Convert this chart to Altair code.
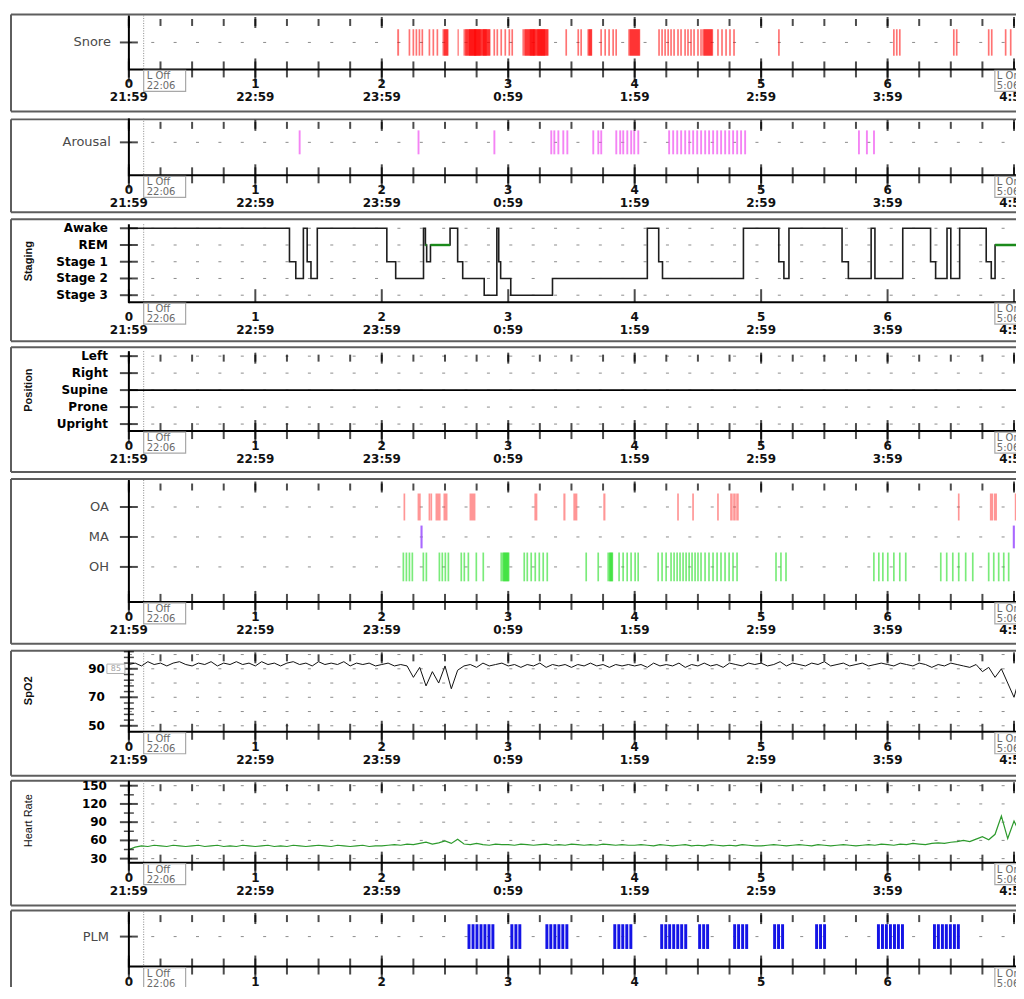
import pandas as pd
import altair as alt

FONT = "Liberation Sans"
LFONT = "DejaVu Sans"
PXH = 126.6          # pixels per hour
XMAX = 7.3
W = round(XMAX * PXH)

CLOCK = ["21:59", "22:59", "23:59", "0:59", "1:59", "2:59", "3:59", "4:59"]
HOURS = list(range(8))
L_OFF, L_ON = 0.117, 7.117
L_OFF_TXT = "L Off\n22:06"
L_ON_TXT = "L On\n5:06"
SPO2_MARK = ("85", 90)   # small boxed marker next to the 90 label

# ---------------- data (hours from 21:59; durations in minutes) ----------------
snore_start = [2.122, 2.212, 2.243, 2.267, 2.291, 2.314, 2.370, 2.401, 2.433, 2.480, 2.490, 2.599,
               2.646, 2.660, 2.690, 2.730, 2.750, 2.800, 2.883, 2.907, 2.938, 2.970, 3.002, 3.025,
               3.112, 3.130, 3.170, 3.200, 3.230, 3.260, 3.452, 3.547, 3.570, 3.626, 3.635,
               3.728, 3.760, 3.791, 3.823, 3.847, 3.949, 3.960,
               4.186, 4.210, 4.234, 4.258, 4.281, 4.305, 4.336, 4.360, 4.392, 4.415,
               4.439, 4.463, 4.494, 4.518, 4.534, 4.545, 4.652, 4.684, 4.716, 4.747, 4.779,
               5.134, 6.043, 6.066, 6.090, 6.517, 6.540, 6.793, 6.817, 6.927, 6.967]
snore_min = [0.9, 0.8, 0.8, 0.8, 0.8, 0.8, 0.8, 0.8, 0.8, 2.9, 2.0, 0.6,
             6.0, 5.5, 5.5, 6.0, 6.5, 3.5, 0.8, 0.8, 0.8, 0.8, 0.8, 0.8,
             5.5, 5.0, 5.5, 5.5, 5.3, 3.4, 0.8, 0.8, 0.8, 2.3, 1.6,
             0.8, 0.8, 0.8, 0.8, 0.8, 5.7, 4.8,
             0.8, 0.8, 0.8, 0.8, 0.8, 0.8, 0.8, 0.8, 0.8, 0.8,
             0.8, 0.8, 0.8, 0.8, 5.2, 4.2, 0.8, 0.8, 0.8, 0.8, 0.8,
             0.8, 0.8, 0.8, 0.8, 0.8, 0.8, 0.8, 0.8, 0.8, 0.8]

arousal_start = [1.343, 2.283, 2.883, 3.333, 3.357, 3.389, 3.428, 3.460, 3.665, 3.705, 3.728,
                 3.847, 3.878, 3.902, 3.934, 3.965, 3.989, 4.021,
                 4.265, 4.297, 4.329, 4.360, 4.392, 4.424, 4.455, 4.487, 4.518, 4.550,
                 4.581, 4.613, 4.645, 4.676, 4.708, 4.740, 4.771, 4.803, 4.834, 4.866,
                 5.766, 5.829, 5.885]
arousal_min = [0.9] * len(arousal_start)

oa_start = [2.172, 2.283, 2.370, 2.385, 2.425, 2.488, 2.694, 3.207, 3.436, 3.515, 3.752,
            4.336, 4.455, 4.652, 4.755, 4.779, 4.803, 6.556, 6.809, 6.840, 7.006]
oa_min = [0.8, 1.5, 0.8, 0.8, 2.4, 1.9, 2.8, 1.4, 1.0, 1.9, 1.0,
          0.8, 0.8, 0.8, 1.2, 1.2, 1.2, 0.8, 1.5, 1.5, 0.8]

ma_start = [2.306, 6.990]
ma_min = [1.0, 1.0]

oh_start = [2.164, 2.188, 2.212, 2.235, 2.322, 2.346, 2.449, 2.472, 2.496, 2.520,
            2.622, 2.646, 2.678, 2.741, 2.796, 2.938, 2.960,
            3.120, 3.144, 3.175, 3.207, 3.239, 3.270, 3.302, 3.610, 3.705, 3.784, 3.800,
            3.870, 3.902, 3.934, 3.965, 3.997, 4.021, 4.179, 4.210, 4.242,
            4.281, 4.305, 4.329, 4.352, 4.376, 4.400, 4.424, 4.447, 4.471, 4.494,
            4.518, 4.550, 4.581, 4.613, 4.645, 4.676, 4.708, 4.740, 4.771, 4.803,
            5.111, 5.150, 5.190, 5.885, 5.924, 5.956, 5.995, 6.043, 6.090, 6.137,
            6.414, 6.461, 6.509, 6.556, 6.611, 6.667, 6.793, 6.833, 6.872, 6.912, 6.951]
oh_min = [0.8, 0.8, 0.8, 0.8, 0.8, 0.8, 0.8, 0.8, 0.8, 0.8,
          0.8, 0.8, 0.8, 0.8, 0.8, 4.0, 3.0,
          0.8, 0.8, 0.8, 0.8, 0.8, 0.8, 0.8, 0.8, 0.8, 2.5, 1.8,
          0.8, 0.8, 0.8, 0.8, 0.8, 0.8, 0.8, 0.8, 0.8,
          0.8, 0.8, 0.8, 0.8, 0.8, 0.8, 0.8, 0.8, 0.8, 0.8,
          0.8, 0.8, 0.8, 0.8, 0.8, 0.8, 0.8, 0.8, 0.8, 0.8,
          0.8, 0.8, 0.8, 0.8, 0.8, 0.8, 0.8, 0.8, 0.8, 0.8,
          0.8, 0.8, 0.8, 0.8, 0.8, 0.8, 0.8, 0.8, 0.8, 0.8, 0.8]

plm_start = [2.678, 2.710, 2.741, 2.773, 2.804, 2.836, 2.867, 3.017, 3.049, 3.080,
             3.294, 3.325, 3.357, 3.389, 3.420, 3.452, 3.831, 3.863, 3.894, 3.926, 3.958,
             4.202, 4.234, 4.265, 4.297, 4.329, 4.360, 4.392, 4.502, 4.534, 4.565,
             4.779, 4.810, 4.842, 4.874, 5.095, 5.126, 5.158, 5.427, 5.458, 5.490,
             5.916, 5.948, 5.979, 6.011, 6.043, 6.074, 6.106,
             6.359, 6.390, 6.422, 6.453, 6.485, 6.517, 6.548]
plm_min = [1.4] * len(plm_start)

stage_t = [0.0, 1.27, 1.32, 1.38, 1.41, 1.44, 1.49, 2.04, 2.11, 2.33, 2.345, 2.355, 2.385,
           2.54, 2.60, 2.64, 2.81, 2.91, 2.925, 2.94, 3.02, 3.35, 4.10, 4.19, 4.22, 4.86,
           5.14, 5.18, 5.22, 5.64, 5.69, 5.87, 5.90, 6.12, 6.34, 6.38, 6.47, 6.50, 6.57,
           6.78, 6.82, 6.85, 7.12]
stage_s = ["Awake", "Stage 1", "Stage 2", "Awake", "Stage 1", "Stage 2", "Awake", "Stage 1",
           "Stage 2", "Awake", "REM", "Stage 1", "REM", "Awake", "Stage 1", "Stage 2", "Stage 3",
           "Awake", "Stage 1", "Stage 2", "Stage 3", "Stage 2", "Awake", "Stage 1", "Stage 2",
           "Awake", "Stage 1", "Stage 2", "Awake", "Stage 1", "Stage 2", "Awake", "Stage 2",
           "Awake", "Stage 1", "Stage 2", "Awake", "Stage 2", "Awake", "Stage 1", "Stage 2",
           "REM", "REM"]
STAGES = ["Stage 3", "Stage 2", "Stage 1", "REM", "Awake"]

pos_t = [0.0, 7.12]
pos_s = ["Supine", "Supine"]
POSITIONS = ["Upright", "Prone", "Supine", "Right", "Left"]

spo2 = [93, 94, 92, 95, 93, 94, 92, 94, 95, 93, 92, 94, 93, 95, 92, 94, 93, 95, 93, 94,
        92, 95, 93, 94, 92, 94, 95, 93, 94, 92, 95, 93, 94, 93, 95, 92, 94, 93, 94, 92,
        93, 94, 92, 93, 92, 84, 91, 78, 88, 80, 92, 76, 89, 92, 93, 91, 94, 92, 93, 94,
        92, 93, 91, 93, 92, 94, 91, 93, 92, 93, 91, 93, 92, 94, 92, 93, 91, 93, 92, 93,
        92, 93, 91, 94, 92, 93, 92, 94, 91, 93, 92, 94, 92, 93, 91, 94, 93, 92, 94, 93,
        94, 92, 93, 95, 92, 94, 93, 92, 94, 93, 95, 92, 93, 94, 92, 93, 94, 92, 93, 94,
        93, 92, 94, 93, 92, 94, 93, 91, 93, 92, 94, 93, 92, 91, 93, 88, 91, 84, 90, 80,
        70, 86, 78]
hr = [45, 49, 51, 50, 52, 51, 50, 52, 51, 50, 51, 52, 50, 51, 52, 50, 51, 50, 52, 51,
      50, 51, 52, 50, 51, 50, 52, 51, 50, 51, 52, 51, 50, 52, 51, 50, 51, 52, 50, 51,
      51, 52, 53, 52, 54, 53, 55, 57, 54, 56, 59, 55, 62, 54, 53, 55, 53, 52, 54, 53,
      53, 52, 54, 53, 52, 53, 54, 52, 53, 52, 54, 53, 52, 53, 52, 54, 53, 52, 53, 52,
      52, 53, 52, 51, 53, 52, 51, 52, 53, 51, 52, 51, 53, 52, 51, 52, 51, 53, 52, 51,
      51, 52, 53, 52, 51, 52, 53, 52, 51, 53, 52, 51, 52, 53, 52, 51, 52, 53, 52, 54,
      53, 52, 54, 53, 55, 54, 53, 55, 56, 55, 57, 58, 60, 58, 62, 66, 61, 70, 100, 63,
      92, 70, 75]
SAMPLE_H = 0.05

# ---------------- helpers ----------------
xs = alt.Scale(domain=[0, XMAX], nice=False, zero=False)
QH = pd.DataFrame({"h": [i * 0.25 for i in range(30)]})
HH = pd.DataFrame({"h": HOURS})
# the last hour number sits under the "L On" box in the original, only its clock time shows
XLAB = pd.DataFrame({"h": HOURS,
                     "lab": [(f"{h}\n{c}" if h < 7 else f"\n{c}") for h, c in zip(HOURS, CLOCK)]})
ONE = pd.DataFrame({"k": [0]})
FRAME_COLOR = "#5e5e5e"
X = lambda f: alt.X(f, scale=xs, axis=None)


def events_df(starts, mins, row, half):
    assert len(starts) == len(mins)
    return pd.DataFrame({"start": starts, "end": [s + m / 60 for s, m in zip(starts, mins)],
                         "lo": [row - half] * len(starts), "hi": [row + half] * len(starts)})


def bars(df, ysc, color, opacity):
    return alt.Chart(df).mark_rect(color=color, opacity=opacity).encode(
        x=X("start:Q"), x2="end", y=alt.Y("lo:Q", scale=ysc, axis=None), y2="hi")


def frame_layers(ft, fb):
    left, right = -118, W + 40
    rule = lambda: alt.Chart(ONE).mark_rule(color=FRAME_COLOR, strokeWidth=2)
    return [
        rule().encode(x=alt.value(left), x2=alt.value(right), y=alt.value(ft)),
        rule().encode(x=alt.value(left), x2=alt.value(right), y=alt.value(fb)),
        rule().encode(x=alt.value(left), y=alt.value(ft), y2=alt.value(fb)),
        rule().encode(x=alt.value(right), y=alt.value(ft), y2=alt.value(fb)),
    ]


def panel(H, ydom, labels, grid, bold, pad, frame, data_layers, title=None, title_y=0,
          title_bold=True, major=None, minor=None, staging=False, extra=None):
    ysc = alt.Scale(domain=ydom, nice=False, zero=False)
    Y = lambda f: alt.Y(f, scale=ysc, axis=None)
    major = major if major is not None else [v for v, _ in labels]
    layers = frame_layers(*frame)
    # dashed category / value grid
    layers.append(alt.Chart(pd.DataFrame({"v": grid})).mark_rule(
        color="#8c8c8c", strokeWidth=1, strokeDash=[3, 19.4]).encode(
        y=Y("v:Q"), x=alt.value(0), x2=alt.value(W)))
    # lights-off dotted line
    layers.append(alt.Chart(pd.DataFrame({"h": [L_OFF]})).mark_rule(
        color="#8a8a8a", strokeDash=[1, 1.5], strokeWidth=1).encode(
        x=X("h:Q"), y=alt.value(0), y2=alt.value(H)))
    layers += data_layers(ysc)
    # axis lines
    layers.append(alt.Chart(ONE).mark_rule(color="#000", strokeWidth=2).encode(
        x=alt.value(0), y=alt.value(0), y2=alt.value(H + 1)))
    layers.append(alt.Chart(ONE).mark_rule(color="#000", strokeWidth=2).encode(
        x=alt.value(0), x2=alt.value(W), y=alt.value(H)))
    # y ticks and labels
    layers.append(alt.Chart(pd.DataFrame({"v": major})).mark_tick(
        orient="horizontal", size=18, thickness=2, color="#000").encode(y=Y("v:Q"), x=alt.value(0)))
    if minor:
        layers.append(alt.Chart(pd.DataFrame({"v": minor})).mark_tick(
            orient="horizontal", size=10, thickness=1.5, color="#000").encode(y=Y("v:Q"), x=alt.value(0)))
    layers.append(alt.Chart(pd.DataFrame({"v": [v for v, _ in labels], "lab": [l for _, l in labels]}))
                  .mark_text(align="right", baseline="middle", font=LFONT,
                             fontSize=12 if bold else 13,
                             fontWeight="bold" if bold else "normal",
                             color="#000" if bold else "#4a4a4a")
                  .encode(y=Y("v:Q"), x=alt.value(-pad), text="lab:N"))
    if extra:
        layers += extra(ysc)
    if title:
        layers.append(alt.Chart(pd.DataFrame({"t": [title]})).mark_text(
            angle=270, align="center", baseline="middle", font=FONT, fontSize=11,
            fontWeight="bold" if title_bold else "normal", color="#111").encode(
            x=alt.value(-100), y=alt.value(title_y), text="t:N"))
    # time ticks
    if staging:
        layers.append(alt.Chart(HH).mark_tick(orient="vertical", size=13, thickness=2, color="#000").encode(
            x=X("h:Q"), y=alt.value(H - 6.5)))
    else:
        layers.append(alt.Chart(QH).mark_tick(orient="vertical", size=16, thickness=2, color="#000").encode(
            x=X("h:Q"), y=alt.value(H)))
        layers.append(alt.Chart(HH).mark_tick(orient="vertical", size=24, thickness=2, color="#000").encode(
            x=X("h:Q"), y=alt.value(H + 1)))
        layers.append(alt.Chart(QH).mark_tick(orient="vertical", size=7, thickness=2, color="#000").encode(
            x=X("h:Q"), y=alt.value(7)))
        layers.append(alt.Chart(HH).mark_tick(orient="vertical", size=11, thickness=2, color="#000").encode(
            x=X("h:Q"), y=alt.value(7)))
    # time labels (hour number + clock time)
    layers.append(alt.Chart(XLAB).mark_text(align="center", baseline="top", font=LFONT, fontSize=12,
                                            fontWeight="bold", color="#111", lineBreak="\n",
                                            lineHeight=13).encode(
        x=X("h:Q"), y=alt.value(H + 10), text="lab:N"))
    # lights off / on boxes
    off = pd.DataFrame({"h": [L_OFF], "t": [L_OFF_TXT]})
    on = pd.DataFrame({"h": [L_ON], "t": [L_ON_TXT]})
    layers.append(alt.Chart(off).mark_rect(fill="white", stroke="#a8a8a8", strokeWidth=1.2, x2Offset=42).encode(
        x=X("h:Q"), x2="h", y=alt.value(H + 1), y2=alt.value(H + 22)))
    layers.append(alt.Chart(off).mark_text(align="left", baseline="top", dx=3, font=LFONT, fontSize=10,
                                           color="#6a6a6a", lineBreak="\n", lineHeight=10).encode(
        x=X("h:Q"), y=alt.value(H + 2), text="t:N"))
    layers.append(alt.Chart(on).mark_rect(fill="white", stroke="#a8a8a8", strokeWidth=1.2, xOffset=-34).encode(
        x=X("h:Q"), x2="h", y=alt.value(H + 1), y2=alt.value(H + 22)))
    layers.append(alt.Chart(on).mark_text(align="left", baseline="top", dx=-32, font=LFONT, fontSize=10,
                                          color="#6a6a6a", lineBreak="\n", lineHeight=10).encode(
        x=X("h:Q"), y=alt.value(H + 2), text="t:N"))
    return alt.layer(*layers).properties(width=W, height=H)


# ---------------- panels ----------------
SNORE_ROW, AROUSAL_ROW, PLM_ROW = 0.5, 0.579, 0.545

p_snore = panel(54, [0, 1], [(SNORE_ROW, "Snore")], [SNORE_ROW], False, 18, (-1, 96),
                lambda ysc: [bars(events_df(snore_start, snore_min, SNORE_ROW, 0.245), ysc, "#ff0000", 0.55)])

p_arousal = panel(57, [0, 1], [(AROUSAL_ROW, "Arousal")], [AROUSAL_ROW], False, 18, (1, 94),
                  lambda ysc: [bars(events_df(arousal_start, arousal_min, AROUSAL_ROW, 0.21), ysc, "#f050f0", 0.7)])


def staging_layers(ysc):
    code = {s: i for i, s in enumerate(STAGES)}
    df = pd.DataFrame({"t": stage_t, "code": [code[s] for s in stage_s]})
    idx = [i for i in range(len(stage_t) - 1) if stage_s[i] == "REM"]
    rem = pd.DataFrame({"start": [stage_t[i] for i in idx], "end": [stage_t[i + 1] for i in idx],
                        "code": [code["REM"]] * len(idx)})
    return [
        alt.Chart(df).mark_line(interpolate="step-after", color="#1e1e1e", strokeWidth=1.6).encode(
            x=X("t:Q"), y=alt.Y("code:Q", scale=ysc, axis=None), order="t:Q"),
        alt.Chart(rem).mark_rule(color="#1b8a1b", strokeWidth=2.4).encode(
            x=X("start:Q"), x2="end", y=alt.Y("code:Q", scale=ysc, axis=None)),
    ]


p_stage = panel(78, [-0.418, 4.239], list(enumerate(STAGES)), list(range(5)), True, 21, (-5, 117),
                staging_layers, title="Staging", title_y=37, staging=True)


def position_layers(ysc):
    code = {s: i for i, s in enumerate(POSITIONS)}
    df = pd.DataFrame({"t": pos_t, "code": [code[s] for s in pos_s]})
    return [alt.Chart(df).mark_line(interpolate="step-after", color="#000", strokeWidth=1.6).encode(
        x=X("t:Q"), y=alt.Y("code:Q", scale=ysc, axis=None), order="t:Q")]


p_pos = panel(80, [-0.412, 4.294], list(enumerate(POSITIONS)), list(range(5)), True, 21, (-4, 121),
              position_layers, title="Position", title_y=39)


def event_layers(ysc):
    return [bars(events_df(oa_start, oa_min, 2, 0.45), ysc, "#ff4040", 0.55),
            bars(events_df(ma_start, ma_min, 1, 0.38), ysc, "#9a4dff", 0.85),
            bars(events_df(oh_start, oh_min, 0, 0.48), ysc, "#22dd22", 0.6)]


p_events = panel(122, [-1.167, 2.9], [(2, "OA"), (1, "MA"), (0, "OH")], [2, 1, 0], False, 20, (-1, 164),
                 event_layers)


def spo2_layers(ysc):
    df = pd.DataFrame({"t": [round(i * SAMPLE_H, 2) for i in range(len(spo2))], "v": spo2})
    return [alt.Chart(df).mark_line(color="#111", strokeWidth=1).encode(
        x=X("t:Q"), y=alt.Y("v:Q", scale=ysc, axis=None))]


def spo2_marker(ysc):
    df = pd.DataFrame({"v": [SPO2_MARK[1]], "lo": [SPO2_MARK[1] - 3.3], "hi": [SPO2_MARK[1] + 3.3],
                       "t": [SPO2_MARK[0]]})
    return [
        alt.Chart(df).mark_rect(fill="white", stroke="#b0b0b0", strokeWidth=1).encode(
            x=alt.value(-22), x2=alt.value(-4), y=alt.Y("lo:Q", scale=ysc, axis=None), y2="hi"),
        alt.Chart(df).mark_text(align="center", baseline="middle", font=LFONT, fontSize=8,
                                color="#a0a0a0").encode(
            x=alt.value(-13), y=alt.Y("v:Q", scale=ysc, axis=None), text="t:N"),
    ]


p_spo2 = panel(81, [45.8, 102.6], [(50, "50"), (70, "70"), (90, "90")], [50, 60, 70, 80, 90, 100],
               True, 24, (0, 125), spo2_layers, title="SpO2", title_y=40,
               major=[50, 70, 90], minor=[54, 58, 62, 66, 74, 78, 82, 86, 94, 98, 102],
               extra=spo2_marker)


def hr_layers(ysc):
    df = pd.DataFrame({"t": [round(i * SAMPLE_H, 2) for i in range(len(hr))], "v": hr})
    return [alt.Chart(df).mark_line(color="#2c9a2c", strokeWidth=1.2).encode(
        x=X("t:Q"), y=alt.Y("v:Q", scale=ysc, axis=None))]


p_hr = panel(82, [23.4, 158.2], [(30, "30"), (60, "60"), (90, "90"), (120, "120"), (150, "150")],
             [30, 60, 90, 120, 150], True, 22, (0, 125), hr_layers, title="Heart Rate", title_y=40,
             title_bold=False, minor=[45, 75, 105, 135])

p_plm = panel(55, [0, 1], [(PLM_ROW, "PLM")], [PLM_ROW], False, 20, (-1, 99),
              lambda ysc: [bars(events_df(plm_start, plm_min, PLM_ROW, 0.225), ysc, "#1414e6", 1.0)])

# negative right/bottom padding crops the canvas like the cropped original
chart = alt.vconcat(p_snore, p_arousal, p_stage, p_pos, p_events, p_spo2, p_hr, p_plm,
                    spacing=49, bounds="flush").properties(
    padding={"left": 1, "top": 4, "right": -78, "bottom": -26},
).configure_view(stroke="transparent")

chart.save("out.html", embed_options={"renderer": "svg", "actions": False})
